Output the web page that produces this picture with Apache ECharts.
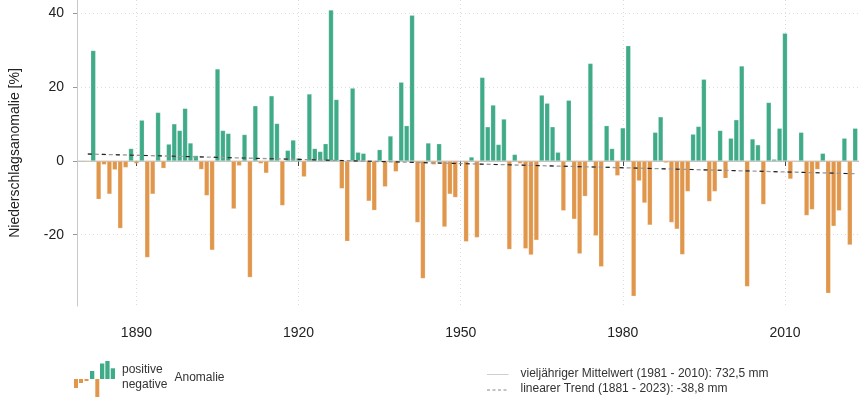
<!DOCTYPE html>
<html>
<head>
<meta charset="utf-8">
<script src="https://cdn.jsdelivr.net/npm/echarts@6/dist/echarts.min.js"></script>
<style>
  html, body { margin: 0; padding: 0; background: #fff; }
  #chart { width: 859px; height: 399px; }
</style>
</head>
<body>
<div id="chart"></div>
<script>
// years 1881 - 2023
const years = [];
for (let y = 1881; y <= 2023; y++) years.push(y);

// precipitation anomaly in %
const anomaly = [
  -0.3, 30.0, -10.4, -1.0, -9.0, -2.4, -18.3, -1.8, 3.4, -0.7,   // 1881-1890
  11.1, -26.2, -9.0, 13.2, -2.0, 4.6, 10.1, 8.3, 14.3, 4.9,      // 1891-1900
  1.5, -2.3, -9.4, -24.2, 25.0, 8.3, 7.5, -13.0, -1.3, 7.2,      // 1901-1910
  -31.6, 15.0, -0.7, -3.3, 17.7, 10.2, -12.1, 2.9, 5.7, 0.8,     // 1911-1920
  -4.3, 18.2, 3.4, 2.6, 4.7, 41.0, 16.7, -7.5, -21.8, 19.8,      // 1921-1930
  2.4, 2.1, -10.9, -13.4, 3.1, -7.0, 6.8, -2.9, 21.4, 9.6,       // 1931-1940
  39.6, -16.7, -31.9, 4.9, -1.0, 4.7, -17.9, -9.0, -9.9, 0.1,    // 1941-1950
  -21.9, 1.1, -20.8, 22.7, 9.3, 15.2, 4.5, 11.4, -24.0, 1.8,     // 1951-1960
  -0.7, -23.8, -25.5, -21.5, 17.9, 15.7, 9.3, 2.4, -13.5, 16.5,  // 1961-1970
  -15.8, -25.2, -9.6, 26.5, -20.3, -28.7, 9.6, 3.4, -4.0, 9.0,   // 1971-1980
  31.3, -36.7, -5.4, -11.4, -17.4, 7.8, 12.0, -0.5, -16.7, -18.5,// 1981-1990
  -25.4, -8.3, 7.3, 9.4, 22.2, -11.0, -8.3, 8.3, -4.7, 6.2,      // 1991-2000
  11.2, 25.8, -34.1, 6.0, 4.4, -11.8, 15.9, 0.5, 8.9, 34.7,      // 2001-2010
  -4.9, -0.3, 7.8, -14.8, -13.2, -2.3, 2.1, -35.9, -17.7, -13.5, // 2011-2020
  6.2, -22.8, 8.9                                                // 2021-2023
];

// linear trend end points (1881, 2023)
const trendYears = [1881, 2023];
const trendValues = [1.9, -3.45];

const xTicks = [1890, 1920, 1950, 1980, 2010];
const yTicks = [-20, 0, 20, 40];

const green = '#3fab88';
const orange = '#e0964b';
const font = '"Liberation Sans", Arial, sans-serif';

const chart = echarts.init(document.getElementById('chart'));

const option = {
  animation: false,
  textStyle: { fontFamily: font },
  grid: { left: 77, right: 0, top: 0, bottom: 93 },
  xAxis: {
    type: 'value',
    min: 1879,
    max: 2023.7,
    axisLine: { show: true, lineStyle: { color: '#b5b5b5', width: 1 } },
    axisTick: { show: true, customValues: xTicks, length: 5, lineStyle: { color: '#444' } },
    axisLabel: { customValues: xTicks, color: '#222', fontSize: 14, margin: 20, formatter: v => String(v) },
    splitLine: { show: true, lineStyle: { color: '#dcdcdc', type: [1, 3] } }
  },
  yAxis: {
    type: 'value',
    min: -39.35,
    max: 43.7,
    name: 'Niederschlagsanomalie [%]',
    nameLocation: 'middle',
    nameGap: 55,
    nameTextStyle: { color: '#222', fontSize: 14 },
    axisLine: { show: true, lineStyle: { color: '#c8c8c8', width: 1 } },
    axisTick: { show: true, customValues: yTicks, length: 4, lineStyle: { color: '#999' } },
    axisLabel: { customValues: yTicks, color: '#222', fontSize: 14, margin: 13 },
    splitLine: { show: true, lineStyle: { color: '#dcdcdc', type: [1, 3] } }
  },
  series: [
    {
      type: 'line',
      silent: true,
      symbol: 'none',
      data: [[1879, 0], [2023.7, 0]],
      lineStyle: { color: '#cfcfcf', width: 1 },
      z: 1
    },
    {
      type: 'bar',
      barWidth: 5,
      data: years.map((y, i) => [y, anomaly[i]]),
      itemStyle: {
        color: p => (p.value[1] >= 0 ? green : orange),
        borderColor: 'rgba(255,255,255,0.35)',
        borderWidth: 0.6
      },
      z: 2
    },
    {
      type: 'line',
      silent: true,
      symbol: 'none',
      data: trendYears.map((y, i) => [y, trendValues[i]]),
      lineStyle: { color: '#9a9a9a', width: 1.3, type: [4, 3] },
      z: 3
    },
    {
      type: 'line',
      silent: true,
      symbol: 'none',
      data: trendYears.map((y, i) => [y, trendValues[i]]),
      lineStyle: { color: '#222', width: 1.1, type: [4, 10], dashOffset: 0 },
      z: 4
    }
  ],
  graphic: [
    // legend icon: little anomaly bars
    { type: 'rect', shape: { x: 74, y: 379, width: 4, height: 9 }, style: { fill: orange } },
    { type: 'rect', shape: { x: 79, y: 379, width: 4, height: 4 }, style: { fill: orange } },
    { type: 'rect', shape: { x: 84.5, y: 379, width: 4, height: 2 }, style: { fill: orange } },
    { type: 'rect', shape: { x: 90, y: 371, width: 4.3, height: 8 }, style: { fill: green } },
    { type: 'rect', shape: { x: 95.3, y: 379, width: 4, height: 18 }, style: { fill: orange } },
    { type: 'rect', shape: { x: 100, y: 363.5, width: 4.3, height: 15.5 }, style: { fill: green } },
    { type: 'rect', shape: { x: 105.3, y: 361, width: 4.3, height: 18 }, style: { fill: green } },
    { type: 'rect', shape: { x: 110.7, y: 368.3, width: 4.3, height: 10.7 }, style: { fill: green } },
    { type: 'text', left: 122, top: 364, style: { text: 'positive', fill: '#333', font: '12px ' + font } },
    { type: 'text', left: 122, top: 379, style: { text: 'negative', fill: '#333', font: '12px ' + font } },
    { type: 'text', left: 174.5, top: 372, style: { text: 'Anomalie', fill: '#333', font: '12px ' + font } },
    // legend for lines
    { type: 'line', shape: { x1: 487, y1: 374.5, x2: 508.5, y2: 374.5 }, style: { stroke: '#cfcfcf', lineWidth: 1 } },
    { type: 'line', shape: { x1: 487, y1: 390, x2: 508.5, y2: 390 }, style: { stroke: '#888', lineWidth: 1, lineDash: [3, 2.5] } },
    { type: 'text', left: 520.5, top: 367.5, style: { text: 'vieljähriger Mittelwert (1981 - 2010): 732,5 mm', fill: '#333', font: '12px ' + font } },
    { type: 'text', left: 520.5, top: 383, style: { text: 'linearer Trend (1881 - 2023): -38,8 mm', fill: '#333', font: '12px ' + font } }
  ]
};

chart.setOption(option);
</script>
</body>
</html>
